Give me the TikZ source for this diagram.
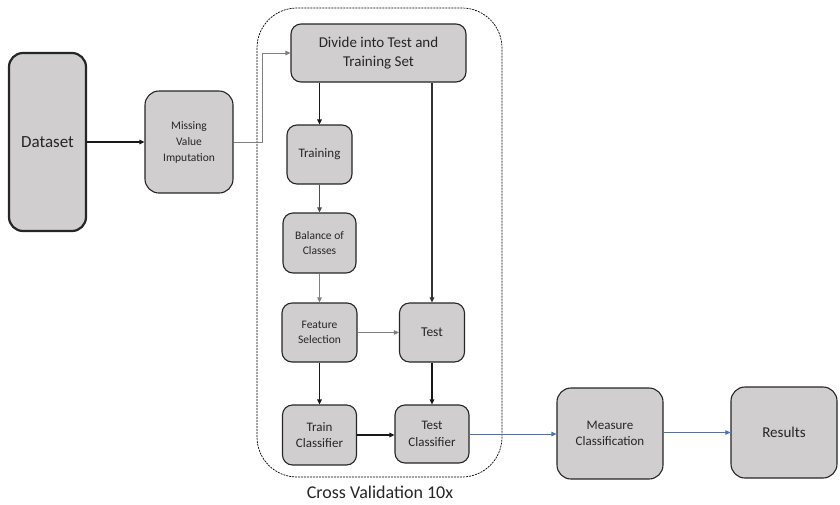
\documentclass[tikz,border=0pt]{standalone}
\usepackage{fontspec}
\setmainfont{Carlito}
\usetikzlibrary{arrows.meta}
\definecolor{boxgray}{HTML}{D0CECE}
\definecolor{edgedark}{HTML}{262626}
\definecolor{linegray}{HTML}{7F7F7F}
\definecolor{flowblue}{HTML}{4472C4}
\definecolor{darkline}{HTML}{333333}
\begin{document}
\begin{tikzpicture}[x=1pt,y=-1pt,
  box/.style={draw=edgedark,fill=boxgray,rounded corners=10pt,line width=1.1pt,
    inner sep=0pt,align=center,text=black!85},
  bigbox/.style={box,rounded corners=14pt},
  tip/.style={-{Triangle[length=5pt,width=4.5pt]}},
  thickarrow/.style={tip,line width=1.5pt,draw=black!90},
  thinarrow/.style={tip,line width=0.8pt,draw=black!70},
  greyarrow/.style={tip,line width=0.8pt,draw=linegray},
  bluearrow/.style={tip,line width=0.8pt,draw=flowblue}]
\useasboundingbox (0,0) rectangle (840,504);
% container
\draw[dashed,dash pattern=on 2pt off 1pt,line width=0.7pt,rounded corners=40pt] (257,8) rectangle (502,477);
\node[font=\fontsize{18}{20}\selectfont,text=black!85] (cv) at (380,492) {Cross Validation 10x};
% nodes
\node[bigbox,line width=2.2pt,minimum width=77pt,minimum height=178pt,font=\fontsize{17}{20}\selectfont] (data) at (47.5,142) {Dataset};
\node[bigbox,minimum width=88pt,minimum height=102pt,font=\fontsize{11.5}{16}\selectfont] (mvi) at (189,142) {Missing\\Value\\Imputation};
\node[box,minimum width=175pt,minimum height=58pt,font=\fontsize{15}{19}\selectfont] (divide) at (378.5,53) {Divide into Test and\\Training Set};
\node[box,minimum width=65pt,minimum height=59pt,font=\fontsize{13}{16}\selectfont] (training) at (319.5,154.5) {Training};
\node[box,minimum width=73pt,minimum height=60pt,font=\fontsize{11.5}{14.5}\selectfont] (balance) at (319.5,243) {Balance of\\Classes};
\node[box,minimum width=75pt,minimum height=59pt,font=\fontsize{11.5}{14.5}\selectfont] (feature) at (319.5,332.5) {Feature\\Selection};
\node[box,minimum width=65pt,minimum height=59pt,font=\fontsize{13.5}{16}\selectfont] (test) at (432,332.5) {Test};
\node[box,minimum width=74pt,minimum height=60pt,font=\fontsize{13}{16.5}\selectfont] (trainc) at (319.5,435) {Train\\Classifier};
\node[box,minimum width=74pt,minimum height=58pt,font=\fontsize{13}{16.5}\selectfont] (testc) at (432,434) {Test\\Classifier};
\node[bigbox,minimum width=106pt,minimum height=91pt,font=\fontsize{13}{16.5}\selectfont] (measure) at (610,433.5) {Measure\\Classification};
\node[bigbox,minimum width=106pt,minimum height=91pt,font=\fontsize{15}{18}\selectfont] (results) at (784,432.5) {Results};
% connectors
\draw[thickarrow,line width=1.3pt] (data) -- (mvi);
\coordinate (bend) at (262,142);
\draw[greyarrow] (mvi.east) -- (bend) |- (divide.west);
\draw[thickarrow] (divide.south -| training.north) -- (training.north);
\draw[tip,line width=1.8pt,draw=darkline] (divide.south -| test.north) -- (test.north);
\draw[thinarrow] (training) -- (balance);
\draw[greyarrow] (balance) -- (feature);
\draw[greyarrow] (feature) -- (test);
\draw[thickarrow] (feature) -- (trainc);
\draw[thickarrow] (test) -- (testc);
\draw[thickarrow] (trainc.east) -- (trainc.east -| testc.west);
\draw[bluearrow] (testc) -- (testc -| measure.west);
\draw[bluearrow] (measure.east |- results) -- (results.west);
\end{tikzpicture}
\end{document}
